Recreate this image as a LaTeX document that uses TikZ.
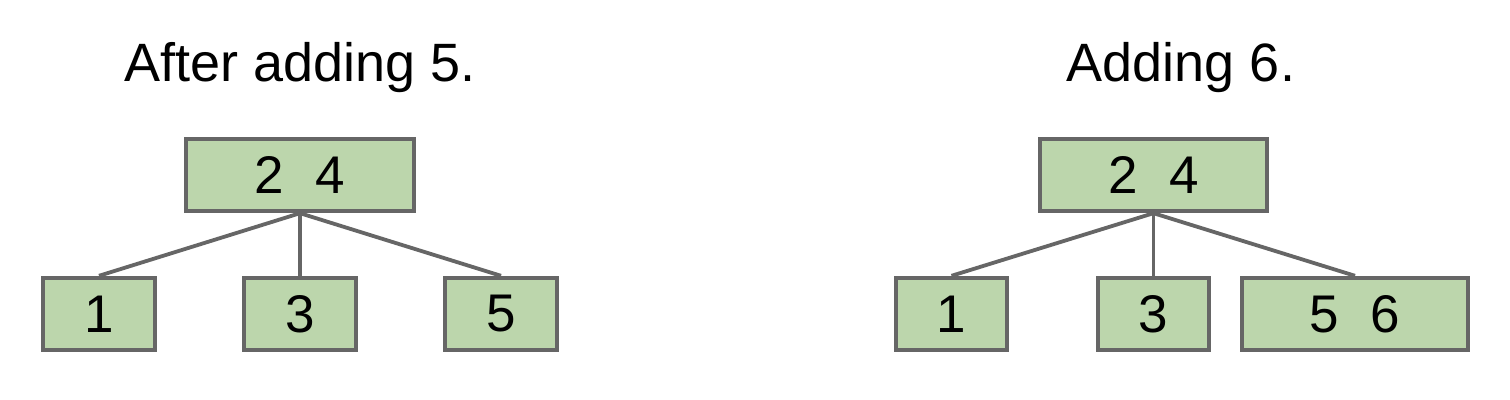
\documentclass[tikz,border=0pt]{standalone}
\usepackage{fontspec}
\setmainfont{Liberation Sans}
\definecolor{keyfill}{RGB}{188,214,172}
\definecolor{keyline}{RGB}{102,102,102}
\tikzset{
  keybox/.style={draw=keyline, line width=2.2pt, fill=keyfill, minimum height=36pt, inner sep=0pt, font=\fontsize{26.5}{30}\selectfont},
  link/.style={draw=keyline, line width=1.9pt},
  title/.style={anchor=base, font=\fontsize{27}{31}\selectfont}
}
\begin{document}
\begin{tikzpicture}[x=0.5pt, y=-0.5pt]
\useasboundingbox (0,0) rectangle (1510,400);
\node[title] (T1) at (300,82) {After adding 5.};
\node[title] (T2) at (1181,82) {Adding 6.};
\node[keybox, minimum width=114pt] (R1) at (300,175) {2\hspace{0.6em}4};
\node[keybox, minimum width=56pt] (A1) at (99,314) {1};
\node[keybox, minimum width=56pt] (B1) at (300,314) {3};
\node[keybox, minimum width=56pt] (C1) at (501,314) {5};
\draw[link] (R1.south) -- (A1.north);
\draw[link] (R1.south) -- (B1.north);
\draw[link] (R1.south) -- (C1.north);
\node[keybox, minimum width=113.5pt] (R2) at (1153.5,175) {2\hspace{0.6em}4};
\node[keybox, minimum width=55.5pt] (A2) at (951.5,314) {1};
\node[keybox, minimum width=55.5pt] (B2) at (1153.5,314) {3};
\node[keybox, minimum width=113pt] (C2) at (1355,314) {5\hspace{0.6em}6};
\draw[link] (R2.south) -- (A2.north);
\draw[link] (R2.south) -- (B2.north);
\draw[link] (R2.south) -- (C2.north);
\end{tikzpicture}
\end{document}
